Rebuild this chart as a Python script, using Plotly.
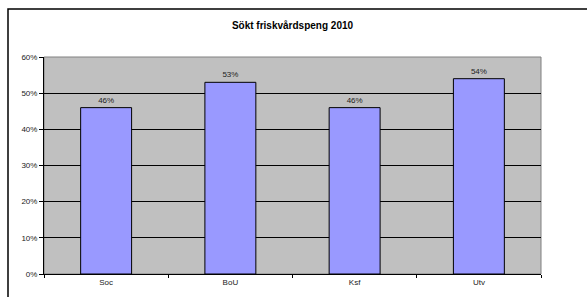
import plotly.graph_objects as go

categories = ["Soc", "BoU", "Ksf", "Utv"]
values = [0.46, 0.53, 0.46, 0.54]
labels = ["46%", "53%", "46%", "54%"]
tick_vals = [0, 0.1, 0.2, 0.3, 0.4, 0.5, 0.6]
tick_text = ["0%", "10%", "20%", "30%", "40%", "50%", "60%"]

fig = go.Figure(go.Bar(
    x=categories, y=values, text=labels, textposition="outside",
    textfont=dict(family="Liberation Sans, Arial", size=8, color="#222"),
    marker=dict(color="#9999ff", line=dict(color="black", width=1)),
    cliponaxis=False, hoverinfo="skip",
))

fig.update_layout(
    width=587, height=297,
    margin=dict(l=44, r=46, t=57, b=23, autoexpand=False),
    paper_bgcolor="white", plot_bgcolor="#c0c0c0",
    bargap=0.59, showlegend=False,
    font=dict(family="Liberation Sans, Arial", size=8, color="black"),
    title=dict(text="<b>Sökt friskvårdspeng 2010</b>", x=0.5, xref="paper",
               y=1 - 25/297, yanchor="middle",
               font=dict(family="Liberation Sans, Arial", size=10, color="black")),
    xaxis=dict(type="category", tickson="boundaries", ticks="outside", ticklen=3,
               tickcolor="black", showline=True, linecolor="black", linewidth=1,
               showgrid=False, tickfont=dict(size=8, color="#222"), automargin=False),
    yaxis=dict(range=[0, 0.6], tickvals=tick_vals, ticktext=tick_text,
               ticks="outside", ticklen=4, tickcolor="black", showline=True,
               linecolor="black", linewidth=1, gridcolor="black", gridwidth=1,
               zeroline=False, tickfont=dict(size=8, color="#222"), automargin=False),
    shapes=[
        dict(type="rect", xref="paper", yref="paper", x0=0, x1=1, y0=0, y1=1,
             line=dict(color="#808080", width=1), layer="below"),
        dict(type="rect", xref="paper", yref="paper", x0=(8-44)/497, x1=(592-44)/497,
             y0=(274-302)/217, y1=1 + (57-9)/217, line=dict(color="black", width=1.5)),
    ],
)

fig.write_html("out.html", config={"displayModeBar": False, "staticPlot": True},
               post_script="document.body.style.margin='0';")
